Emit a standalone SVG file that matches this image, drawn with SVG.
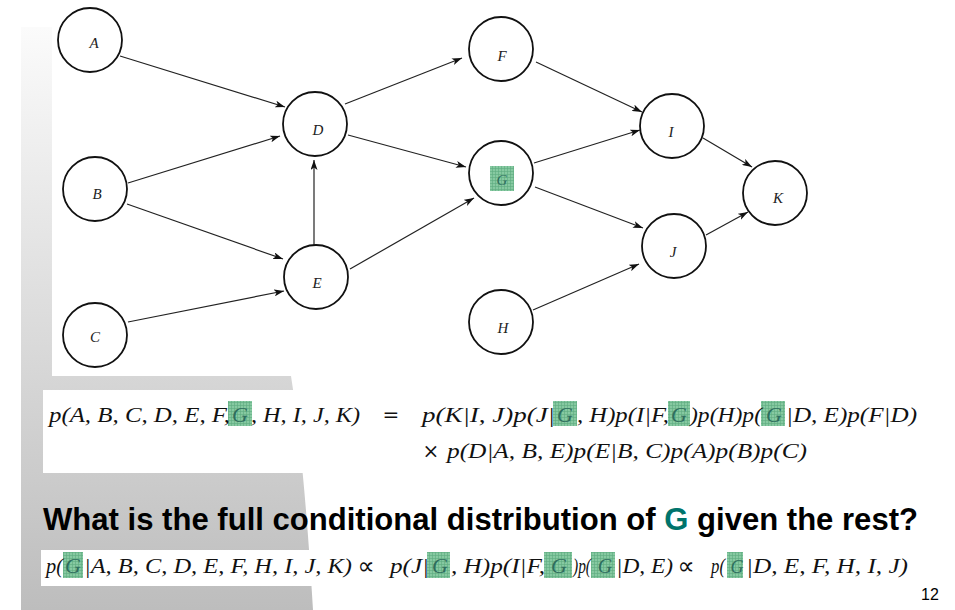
<svg xmlns="http://www.w3.org/2000/svg" width="955" height="610" viewBox="0 0 955 610">
<style>
.node circle{fill:#fff;stroke:#111;stroke-width:1.8}
.lbl{font-family:"Liberation Serif","DejaVu Serif",serif;font-style:italic;font-size:15px;fill:#222;text-anchor:middle}
.edges line{stroke:#222;stroke-width:1.2;marker-end:url(#arr)}
.m{font-family:"Liberation Serif","DejaVu Serif",serif;font-style:italic;font-size:22px;fill:#111}
.op{font-family:"DejaVu Serif","Liberation Serif",serif;font-size:20px;fill:#111;text-anchor:middle}
.prop{font-family:"DejaVu Sans","DejaVu Serif",sans-serif;font-size:24px;fill:#111;text-anchor:middle}
.g{font-family:"Liberation Serif","DejaVu Serif",serif;font-style:italic;font-size:22px;fill:#2f6e5e;text-anchor:middle}
.hl{fill:url(#grid)}
.title{font-family:"Liberation Sans",Arial,sans-serif;font-weight:bold;font-size:31px;fill:#000}
</style>
<defs>
<linearGradient id="bg" gradientUnits="userSpaceOnUse" x1="0" y1="27" x2="0" y2="610">
<stop offset="0" stop-color="#fbfbfb"/>
<stop offset="0.6" stop-color="#d6d6d6"/>
<stop offset="1" stop-color="#bdbdbd"/>
</linearGradient>
<pattern id="grid" width="3" height="3" patternUnits="userSpaceOnUse">
<rect width="3" height="3" fill="#86c9a1"/>
<path d="M0,0.5H3M0.5,0V3" stroke="#5eab80" stroke-width="0.6"/>
</pattern>
<marker id="arr" markerUnits="userSpaceOnUse" markerWidth="10" markerHeight="7" refX="10" refY="3.5" orient="auto">
<path d="M0,0 L10,3.5 L0,7 L2.5,3.5 Z" fill="#111"/>
</marker>
</defs>

<!-- background -->
<rect width="955" height="610" fill="#fff"/>
<path d="M21,27 L270,27 L291,376 Q304,460 313,610 L21,610 Z" fill="url(#bg)"/>
<rect x="52" y="0" width="903" height="376" fill="#fff"/>
<rect x="43" y="390" width="884" height="83" fill="#fff"/>
<rect x="41" y="550" width="872" height="36" fill="#fff"/>

<!-- connectors -->
<g class="edges" id="edges">
<line x1="120" y1="56" x2="285" y2="107"/>
<line x1="128" y1="183" x2="280" y2="136"/>
<line x1="127" y1="204" x2="283" y2="259"/>
<line x1="128" y1="322" x2="284" y2="291"/>
<line x1="314" y1="247" x2="314" y2="160"/>
<line x1="345" y1="104" x2="462" y2="58"/>
<line x1="348" y1="135" x2="466" y2="167"/>
<line x1="350" y1="269" x2="474" y2="198"/>
<line x1="536" y1="62" x2="642" y2="112"/>
<line x1="534" y1="163" x2="640" y2="130"/>
<line x1="535" y1="187" x2="643" y2="228"/>
<line x1="533" y1="310" x2="639" y2="264"/>
<line x1="703" y1="138" x2="752" y2="167"/>
<line x1="706" y1="235" x2="748" y2="212"/>
</g>

<!-- nodes -->
<g class="node" id="node-A"><circle cx="90" cy="40" r="32"/><text class="lbl" x="94" y="48">A</text></g>
<g class="node" id="node-B"><circle cx="95" cy="189" r="32"/><text class="lbl" x="97" y="199">B</text></g>
<g class="node" id="node-C"><circle cx="95" cy="335" r="32"/><text class="lbl" x="95" y="342">C</text></g>
<g class="node" id="node-D"><circle cx="315" cy="124" r="32"/><text class="lbl" x="318" y="135">D</text></g>
<g class="node" id="node-E"><circle cx="316" cy="277" r="32"/><text class="lbl" x="317" y="288">E</text></g>
<g class="node" id="node-F"><circle cx="501" cy="49" r="32"/><text class="lbl" x="502" y="61">F</text></g>
<g class="node" id="node-G"><circle cx="501" cy="173" r="32"/><rect class="hl" x="490" y="166" width="24" height="25"/><text class="lbl" x="502" y="185" style="fill:#2f6e5e">G</text></g>
<g class="node" id="node-H"><circle cx="501" cy="322" r="32"/><text class="lbl" x="503" y="333">H</text></g>
<g class="node" id="node-I"><circle cx="672" cy="126" r="32"/><text class="lbl" x="671" y="137">I</text></g>
<g class="node" id="node-J"><circle cx="674" cy="246" r="32"/><text class="lbl" x="673" y="257">J</text></g>
<g class="node" id="node-K"><circle cx="775" cy="193" r="32"/><text class="lbl" x="778" y="203">K</text></g>

<!-- formula 1 -->
<g id="formula1">
<rect class="hl" x="228" y="401" width="24" height="25"/>
<rect class="hl" x="553" y="401" width="24" height="25"/>
<rect class="hl" x="668" y="401" width="22" height="25"/>
<rect class="hl" x="761" y="401" width="24" height="25"/>
<text class="m" x="49" y="422" textLength="181" lengthAdjust="spacingAndGlyphs">p(A, B, C, D, E, F,</text>
<text class="g" x="240" y="422">G</text>
<text class="m" x="251" y="422" textLength="109" lengthAdjust="spacingAndGlyphs">, H, I, J, K)</text>
<text class="op" x="391" y="422">=</text>
<text class="m" x="422" y="422" textLength="133" lengthAdjust="spacingAndGlyphs">p(K|I, J)p(J|</text>
<text class="g" x="565" y="422">G</text>
<text class="m" x="577" y="422" textLength="92" lengthAdjust="spacingAndGlyphs">, H)p(I|F,</text>
<text class="g" x="679" y="422">G</text>
<text class="m" x="690" y="422" textLength="72" lengthAdjust="spacingAndGlyphs">)p(H)p(</text>
<text class="g" x="774" y="422">G</text>
<text class="m" x="786" y="422" textLength="131" lengthAdjust="spacingAndGlyphs">|D, E)p(F|D)</text>
<text class="op" x="431" y="458">×</text>
<text class="m" x="447" y="458" textLength="360" lengthAdjust="spacingAndGlyphs">p(D|A, B, E)p(E|B, C)p(A)p(B)p(C)</text>
</g>

<!-- title -->
<text class="title" x="43" y="530" textLength="875" lengthAdjust="spacingAndGlyphs">What is the full conditional distribution of <tspan fill="#00746c">G</tspan> given the rest?</text>

<!-- formula 2 -->
<g id="formula2">
<rect class="hl" x="63" y="552" width="20" height="26"/>
<rect class="hl" x="427" y="552" width="23" height="26"/>
<rect class="hl" x="544" y="552" width="28" height="26"/>
<rect class="hl" x="591" y="552" width="24" height="26"/>
<rect class="hl" x="727" y="552" width="16" height="26"/>
<text class="m" x="46" y="573" textLength="17" lengthAdjust="spacingAndGlyphs">p(</text>
<text class="g" x="73" y="573">G</text>
<text class="m" x="84" y="573" textLength="268" lengthAdjust="spacingAndGlyphs">|A, B, C, D, E, F, H, I, J, K)</text>
<text class="prop" x="366" y="574">∝</text>
<text class="m" x="390" y="573" textLength="39" lengthAdjust="spacingAndGlyphs">p(J|</text>
<text class="g" x="440" y="573">G</text>
<text class="m" x="451" y="573" textLength="94" lengthAdjust="spacingAndGlyphs">, H)p(I|F,</text>
<text class="g" x="559" y="573">G</text>
<text class="m" x="573" y="573" textLength="18" lengthAdjust="spacingAndGlyphs">)p(</text>
<text class="g" x="605" y="573" style="font-size:20px">G</text>
<text class="m" x="616" y="573" textLength="57" lengthAdjust="spacingAndGlyphs">|D, E)</text>
<text class="prop" x="686" y="574">∝</text>
<text class="m" x="711" y="573" textLength="14" lengthAdjust="spacingAndGlyphs">p(</text>
<text class="g" x="737" y="573" style="font-size:18px">G</text>
<text class="m" x="746" y="573" textLength="162" lengthAdjust="spacingAndGlyphs">|D, E, F, H, I, J)</text>
</g>

<text x="930" y="600" style="font-family:'Liberation Sans',Arial,sans-serif;font-size:16px;fill:#000;text-anchor:middle">12</text>
</svg>
